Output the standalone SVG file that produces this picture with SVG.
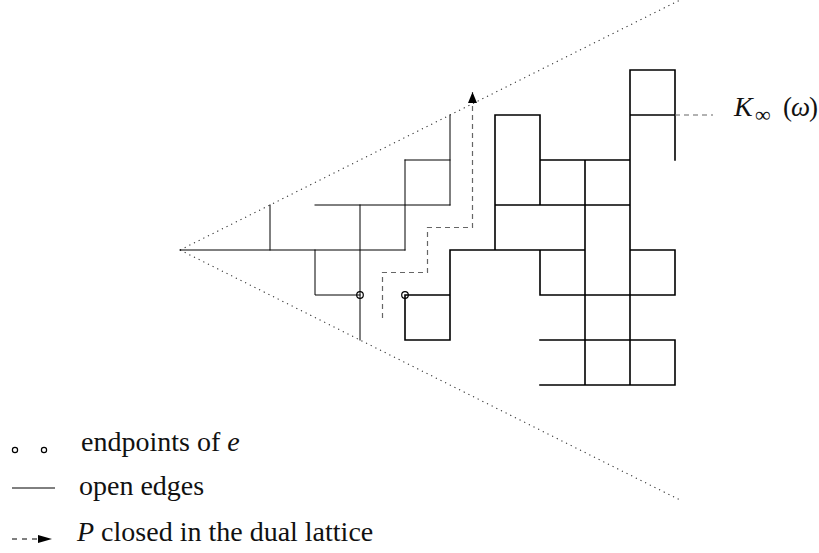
<svg xmlns="http://www.w3.org/2000/svg" width="819" height="553" viewBox="0 0 819 553">
<style>
.thin{stroke:#000;stroke-width:1;fill:none;stroke-linecap:square}
.thick{stroke:#000;stroke-width:1.6;fill:none;stroke-linecap:square}
.dot{stroke:#333;stroke-width:1.1;fill:none;stroke-dasharray:1.2 4}
.dash{stroke:#666;stroke-width:1.2;fill:none;stroke-dasharray:5 4}
.ep{stroke:#000;stroke-width:1.2;fill:none}
.t{font-family:"Liberation Serif","DejaVu Serif",serif;font-size:28px;fill:#111}
.i{font-style:italic}
</style>
<defs>
<marker id="ah" markerWidth="12" markerHeight="10" refX="11" refY="4.5" orient="auto" markerUnits="userSpaceOnUse">
<path d="M0,0 L11,4.5 L0,9 Z" fill="#000"/>
</marker>
<marker id="ah2" markerWidth="15" markerHeight="9" refX="14" refY="4" orient="auto" markerUnits="userSpaceOnUse">
<path d="M0,0 L14,4 L0,8 Z" fill="#000"/>
</marker>
</defs>
<rect width="819" height="553" fill="#fff"/>
<g id="cone">
<line class="dot" x1="180" y1="250" x2="680" y2="0"/>
<line class="dot" x1="180" y1="250" x2="680" y2="500"/>
</g>
<g id="open-cluster-left">
<path class="thin" d="M180,250 H405 M270,205 V250 M315,205 H450 M360,205 V340 M405,160 V250 M405,160 H450 M450,115 V205 M315,250 V295 H360"/>
</g>
<g id="open-cluster-right">
<path class="thick" d="M405,295 H450 V340 H405 Z M450,250 V340 M450,250 H585 M630,250 H675 M495,115 H540 V205 M495,115 V250 M540,160 H630 M495,205 H630 M585,160 V385 M630,70 V385 M630,70 H675 V160 M630,115 H675 M540,250 V295 M540,295 H675 M675,250 V295 M540,340 H675 V385 M540,385 H675"/>
</g>
<g id="endpoints">
<circle class="ep" cx="360" cy="295" r="3.3"/>
<circle class="ep" cx="405" cy="295" r="3.3"/>
</g>
<g id="connectors">
<path class="dash" d="M382.5,318 V272.5 H427.5 V227.5 H472.5 V92" marker-end="url(#ah)"/>
<line class="dash" x1="675" y1="115" x2="713" y2="115"/>
</g>
<g id="label-K">
<text class="t i" x="734" y="116">K</text>
<text class="t" x="755" y="122" style="font-size:22px">∞</text>
<text class="t" x="783" y="116" style="font-size:27px">(</text>
<text class="t i" x="791" y="116" style="font-size:27px">ω</text>
<text class="t" x="809" y="116" style="font-size:27px">)</text>
</g>
<g id="legend">
<circle class="ep" cx="15" cy="450" r="2.6"/>
<circle class="ep" cx="44" cy="450" r="2.6"/>
<text class="t" x="81" y="451">endpoints of <tspan class="i">e</tspan></text>
<line class="thin" x1="12" y1="488" x2="55" y2="488" style="stroke-linecap:butt"/>
<text class="t" x="79" y="495">open edges</text>
<line x1="12" y1="539" x2="52" y2="539" style="stroke:#000;stroke-width:1;stroke-dasharray:5 5" marker-end="url(#ah2)"/>
<text class="t" x="77" y="541"><tspan class="i">P</tspan> closed in the dual lattice</text>
</g>
</svg>
